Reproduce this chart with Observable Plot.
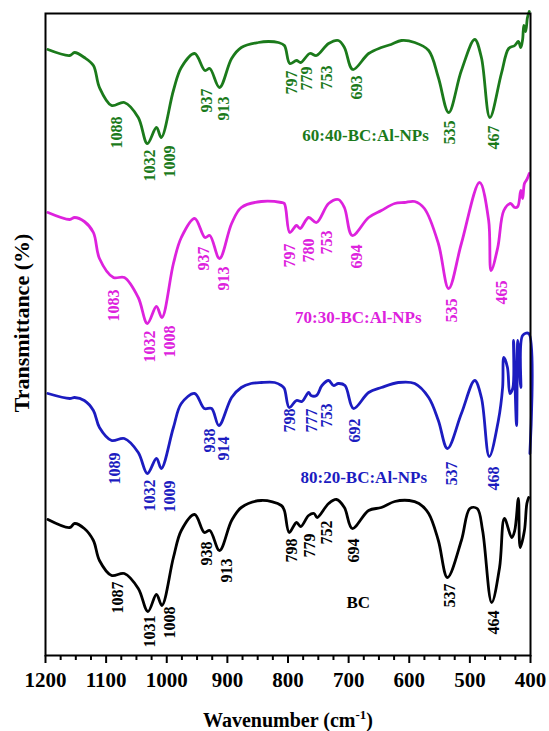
<!DOCTYPE html>
<html>
<head>
<meta charset="utf-8">
<script src="https://cdn.jsdelivr.net/npm/d3@7"></script>
<script src="https://cdn.jsdelivr.net/npm/@observablehq/plot@0.6"></script>
<style>
  html, body { margin: 0; padding: 0; background: #fff; }
  #chart { width: 549px; height: 731px; }
</style>
</head>
<body>
<div id="chart"></div>
<script>
// ---- Data (wavenumber in cm^-1, stacked transmittance in arbitrary units) ----
const seriesNames = ["BC", "80:20-BC:Al-NPs", "70:30-BC:Al-NPs", "60:40-BC:Al-NPs"];
const seriesColors = ["#000000", "#1c1cc0", "#dd22dd", "#1b7a1b"];

const wnGreen = [1196,1160,1152,1136,1121,1111,1091,1070,1047,1032,1017,1009,989,976,954,937,929,913,893,877,849,832,816,806,797,786,779,764,753,733,717,707,693,667,646,630,613,591,568,552,535,514,492,481,467,448,436,426,420,416,413,411,408,405,402];
const tGreen  = [604,598,601,596,588,566,548,551,536,510,526,516,563,586,600,583,585,566,595,606,611,612,611,608,590,593,591,600,598,610,613,606,584,600,606,609,613,611,603,576,541,583,614,596,536,580,605,608,612,606,614,628,622,636,642];

const wnMagenta = [1196,1160,1152,1136,1121,1111,1088,1070,1047,1032,1017,1008,989,976,954,937,929,913,893,877,844,811,806,797,786,780,766,753,733,717,707,694,667,646,624,608,591,575,552,535,514,484,469,465,454,444,433,426,421,416,413,410,406,402];
const tMagenta  = [441,434,436,432,421,395,376,376,356,330,347,336,390,416,435,416,418,395,430,446,452,451,450,421,428,425,436,431,450,454,446,418,436,443,450,451,452,445,410,365,410,471,433,383,406,443,450,446,447,463,455,470,474,480];

const wnBlue = [1196,1160,1152,1136,1121,1111,1091,1070,1047,1032,1017,1009,989,976,954,938,926,914,893,877,861,844,822,811,806,798,786,777,766,762,753,744,733,725,717,706,692,667,646,618,591,568,552,537,514,492,481,468,453,446,444,438,434,429,428,423,421,416,413,403,401];
const tBlue  = [260,255,256,253,243,226,213,215,201,180,195,185,226,250,260,245,245,228,256,266,270,271,271,268,265,246,253,252,261,258,258,268,273,268,270,268,245,261,266,271,270,256,233,205,240,273,256,197,233,266,296,286,260,266,313,228,313,266,318,320,200];

const wnBlack = [1196,1160,1152,1136,1121,1111,1091,1070,1047,1031,1017,1008,989,976,954,938,929,913,893,877,844,811,806,798,786,779,766,757,752,733,720,707,694,667,646,624,600,584,568,552,537,514,500,488,479,464,451,443,431,426,420,417,410,406,403];
const tBlack  = [134,126,130,125,113,93,78,80,65,42,59,48,96,123,139,121,123,103,133,146,153,148,143,121,131,127,138,140,136,150,154,146,125,143,146,152,153,150,140,113,76,113,145,145,123,51,86,135,116,123,155,106,123,150,156];

// Peak labels: text, label wavenumber, label height
const peaksGreen   = ["1088","1032","1009","937","913","797","779","753","693","535","467"];
const peakWnGreen  = [1083,1028,995,933,906,794,769,736,687,533,461];
const peakTGreen   = [521,488,492,553,545,571,575,576,566,521,516];

const peaksMagenta  = ["1083","1032","1008","937","913","797","780","753","694","535","465"];
const peakWnMagenta = [1088,1028,995,938,905,797,766,736,687,530,448];
const peakTMagenta  = [348,307,312,395,375,398,403,411,397,343,361];

const peaksBlue  = ["1089","1032","1009","938","914","798","777","753","692","537","468"];
const peakWnBlue = [1086,1028,995,929,905,797,761,736,690,530,461];
const peakTBlue  = [185,158,157,213,205,233,233,238,223,180,175];

const peaksBlack  = ["1087","1031","1008","938","913","798","779","752","694","537","464"];
const peakWnBlack = [1081,1028,995,934,901,794,764,736,692,533,461];
const peakTBlack  = [56,22,31,100,83,103,108,121,103,58,31];

// Series name labels: wavenumber, height
const nameWn = [684, 675, 684, 672];
const nameT  = [51, 176, 336, 518];

const majorTicks = [1200,1100,1000,900,800,700,600,500,400];
const minorTicks = d3.range(400, 1201, 25).filter(d => d % 100 !== 0);

// ---- Build tables ----
function toRows(wn, t) { return wn.map((w, i) => ({w, t: t[i]})); }
function toLabels(txt, wn, t) { return txt.map((s, i) => ({s, w: wn[i], t: t[i]})); }

const lines = [
  {rows: toRows(wnBlack, tBlack), labels: toLabels(peaksBlack, peakWnBlack, peakTBlack)},
  {rows: toRows(wnBlue, tBlue), labels: toLabels(peaksBlue, peakWnBlue, peakTBlue)},
  {rows: toRows(wnMagenta, tMagenta), labels: toLabels(peaksMagenta, peakWnMagenta, peakTMagenta)},
  {rows: toRows(wnGreen, tGreen), labels: toLabels(peaksGreen, peakWnGreen, peakTGreen)}
];
const names = seriesNames.map((s, i) => ({s, w: nameWn[i], t: nameT[i], c: seriesColors[i]}));

const FONT = "'Liberation Serif', 'Times New Roman', serif";

const marks = [];
lines.forEach((L, i) => {
  marks.push(Plot.line(L.rows, {x: "w", y: "t", stroke: seriesColors[i], strokeWidth: 2.8, curve: "catmull-rom"}));
  marks.push(Plot.text(L.labels, {x: "w", y: "t", text: "s", rotate: -90, textAnchor: "middle",
    fill: seriesColors[i], fontSize: 16, fontWeight: "bold", fontFamily: FONT}));
});
marks.push(Plot.text(names, {x: "w", y: "t", text: "s", fill: "c", fontSize: 17, fontWeight: "bold", fontFamily: FONT}));
marks.push(Plot.frame({stroke: "black", strokeWidth: 2}));
marks.push(Plot.axisX({ticks: minorTicks, tickSize: 5, strokeWidth: 2, tickFormat: () => "", label: null}));
marks.push(Plot.axisX({ticks: majorTicks, tickSize: 8, tickPadding: 9, strokeWidth: 2, tickFormat: d => String(d),
  fontSize: 21, fontWeight: "bold", fontFamily: FONT, label: null}));

const chart = Plot.plot({
  width: 549,
  height: 731,
  marginLeft: 45,
  marginRight: 19,
  marginTop: 13,
  marginBottom: 76,
  x: {domain: [1200, 400]},
  y: {domain: [-2, 640], axis: null},
  style: {background: "#fff", fontFamily: FONT, color: "#000", overflow: "visible"},
  marks
});

const svg = d3.select(chart);
svg.append("text")
  .attr("transform", "translate(24,323) rotate(-90)")
  .attr("text-anchor", "middle")
  .attr("dominant-baseline", "middle")
  .attr("font-family", FONT).attr("font-weight", "bold").attr("font-size", 22)
  .attr("fill", "#000")
  .text("Transmittance (%)");

const xt = svg.append("text")
  .attr("x", 288).attr("y", 727)
  .attr("text-anchor", "middle")
  .attr("font-family", FONT).attr("font-weight", "bold").attr("font-size", 20)
  .attr("fill", "#000");
xt.append("tspan").text("Wavenumber (cm");
xt.append("tspan").attr("dy", -8).attr("font-size", 13).text("-1");
xt.append("tspan").attr("dy", 8).text(")");

document.getElementById("chart").appendChild(chart);
</script>
</body>
</html>
